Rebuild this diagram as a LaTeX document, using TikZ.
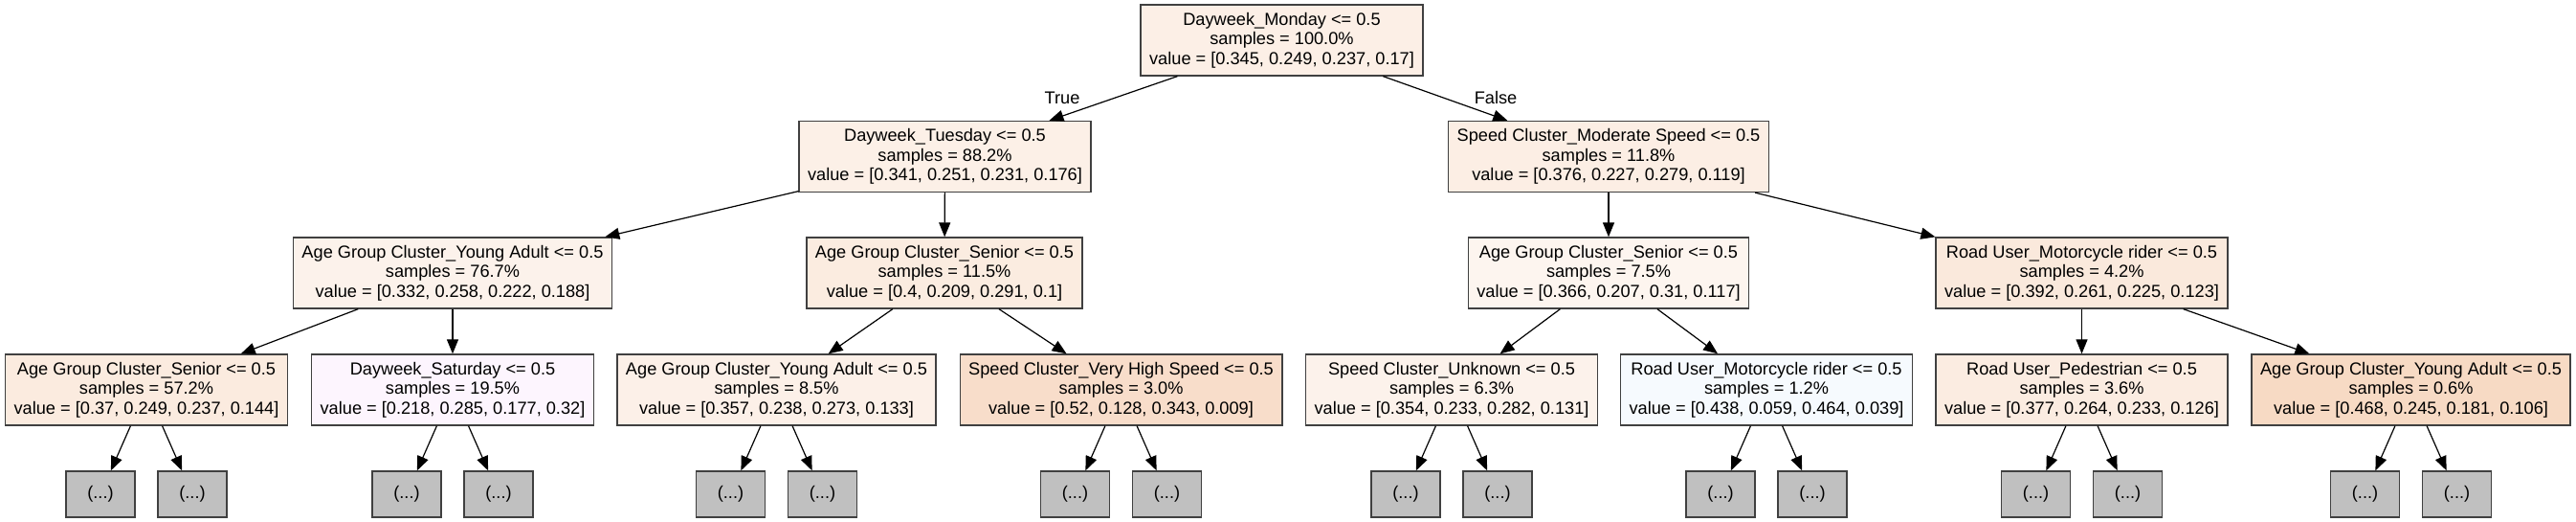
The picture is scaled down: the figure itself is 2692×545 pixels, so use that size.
\documentclass[tikz,border=0pt]{standalone}
\usepackage{fontspec}
\setmainfont{Liberation Sans}
\usepackage{tikz}
\usetikzlibrary{arrows.meta, calc}

% node fills (white blended with the class colour)
\definecolor{cRoot}{RGB}{252,239,230}
\definecolor{cTue}{RGB}{252,240,231}
\definecolor{cMod}{RGB}{252,238,228}
\definecolor{cYaA}{RGB}{252,242,235}
\definecolor{cSenA}{RGB}{251,236,224}
\definecolor{cSenB}{RGB}{253,245,239}
\definecolor{cMotA}{RGB}{250,233,220}
\definecolor{cSenC}{RGB}{251,235,223}
\definecolor{cSat}{RGB}{253,245,254}
\definecolor{cYaB}{RGB}{252,240,232}
\definecolor{cVhs}{RGB}{248,221,202}
\definecolor{cUnk}{RGB}{252,242,235}
\definecolor{cMotB}{RGB}{246,250,254}
\definecolor{cPed}{RGB}{251,236,225}
\definecolor{cYaC}{RGB}{247,218,196}
\definecolor{leafgray}{RGB}{192,192,192}

\begin{document}
\begin{tikzpicture}[
    x=0.5pt, y=-0.5pt,
    % Node Styles
    split/.style={rectangle, draw=black!75, line width=0.65pt, align=center, inner xsep=4.5pt, inner ysep=1pt, minimum height=37pt, font=\fontsize{9.1}{10.35}\selectfont},
    leaf/.style={rectangle, draw=black!75, line width=0.65pt, fill=leafgray, minimum width=36pt, minimum height=24pt, inner sep=0pt, font=\fontsize{9.1}{10.35}\selectfont},
    branch/.style={font=\fontsize{9.1}{10.35}\selectfont},
    arrow/.style={-{Triangle[length=7.5pt, width=6pt]}, line width=0.6pt, black}
]
\useasboundingbox (0,0) rectangle (2692,545);

% --- 1. Root ---
\node[split, fill=cRoot] (root) at (1339.5,42) {Dayweek\_Monday <= 0.5\\samples = 100.0\%\\value = [0.345, 0.249, 0.237, 0.17]};

% --- 2. Depth 1 ---
\node[split, fill=cTue] (tue) at (987.5,163.5) {Dayweek\_Tuesday <= 0.5\\samples = 88.2\%\\value = [0.341, 0.251, 0.231, 0.176]};
\node[split, fill=cMod] (mod) at (1681,163.5) {Speed Cluster\_Moderate Speed <= 0.5\\samples = 11.8\%\\value = [0.376, 0.227, 0.279, 0.119]};

% --- 3. Depth 2 ---
\node[split, fill=cYaA] (yaA) at (473,285) {Age Group Cluster\_Young Adult <= 0.5\\samples = 76.7\%\\value = [0.332, 0.258, 0.222, 0.188]};
\node[split, fill=cSenA] (senA) at (987,285) {Age Group Cluster\_Senior <= 0.5\\samples = 11.5\%\\value = [0.4, 0.209, 0.291, 0.1]};
\node[split, fill=cSenB] (senB) at (1681,285) {Age Group Cluster\_Senior <= 0.5\\samples = 7.5\%\\value = [0.366, 0.207, 0.31, 0.117]};
\node[split, fill=cMotA] (motA) at (2175.5,285) {Road User\_Motorcycle rider <= 0.5\\samples = 4.2\%\\value = [0.392, 0.261, 0.225, 0.123]};

% --- 4. Depth 3 ---
\node[split, fill=cSenC] (senC) at (153,407) {Age Group Cluster\_Senior <= 0.5\\samples = 57.2\%\\value = [0.37, 0.249, 0.237, 0.144]};
\node[split, fill=cSat] (sat) at (473,407) {Dayweek\_Saturday <= 0.5\\samples = 19.5\%\\value = [0.218, 0.285, 0.177, 0.32]};
\node[split, fill=cYaB] (yaB) at (811.5,407) {Age Group Cluster\_Young Adult <= 0.5\\samples = 8.5\%\\value = [0.357, 0.238, 0.273, 0.133]};
\node[split, fill=cVhs] (vhs) at (1171.5,407) {Speed Cluster\_Very High Speed <= 0.5\\samples = 3.0\%\\value = [0.52, 0.128, 0.343, 0.009]};
\node[split, fill=cUnk] (unk) at (1517,407) {Speed Cluster\_Unknown <= 0.5\\samples = 6.3\%\\value = [0.354, 0.233, 0.282, 0.131]};
\node[split, fill=cMotB] (motB) at (1846,407) {Road User\_Motorcycle rider <= 0.5\\samples = 1.2\%\\value = [0.438, 0.059, 0.464, 0.039]};
\node[split, fill=cPed] (ped) at (2175.5,407) {Road User\_Pedestrian <= 0.5\\samples = 3.6\%\\value = [0.377, 0.264, 0.233, 0.126]};
\node[split, fill=cYaC] (yaC) at (2519.5,407) {Age Group Cluster\_Young Adult <= 0.5\\samples = 0.6\%\\value = [0.468, 0.245, 0.181, 0.106]};

% --- 5. Truncated subtrees ---
\foreach \p in {senC, sat, yaB, vhs, unk, motB, ped, yaC} {
    \node[leaf] (\p-l) at ($(\p.center)+(-48,109)$) {(...)};
    \node[leaf] (\p-r) at ($(\p.center)+(48,109)$) {(...)};
    \draw[arrow] (\p) -- (\p-l);
    \draw[arrow] (\p) -- (\p-r);
}

% --- Edges ---
\draw[arrow] (root) -- (tue);
\draw[arrow] (root) -- (mod);
\draw[arrow] (tue) -- (yaA);
\draw[arrow] (tue) -- (senA);
\draw[arrow] (mod) -- (senB);
\draw[arrow] (mod) -- (motA);
\draw[arrow] (yaA) -- (senC);
\draw[arrow] (yaA) -- (sat);
\draw[arrow] (senA) -- (yaB);
\draw[arrow] (senA) -- (vhs);
\draw[arrow] (senB) -- (unk);
\draw[arrow] (senB) -- (motB);
\draw[arrow] (motA) -- (ped);
\draw[arrow] (motA) -- (yaC);

% branch labels
\node[branch] (lblTrue) at (1110,102) {True};
\node[branch] (lblFalse) at (1563,102) {False};

\end{tikzpicture}
\end{document}
